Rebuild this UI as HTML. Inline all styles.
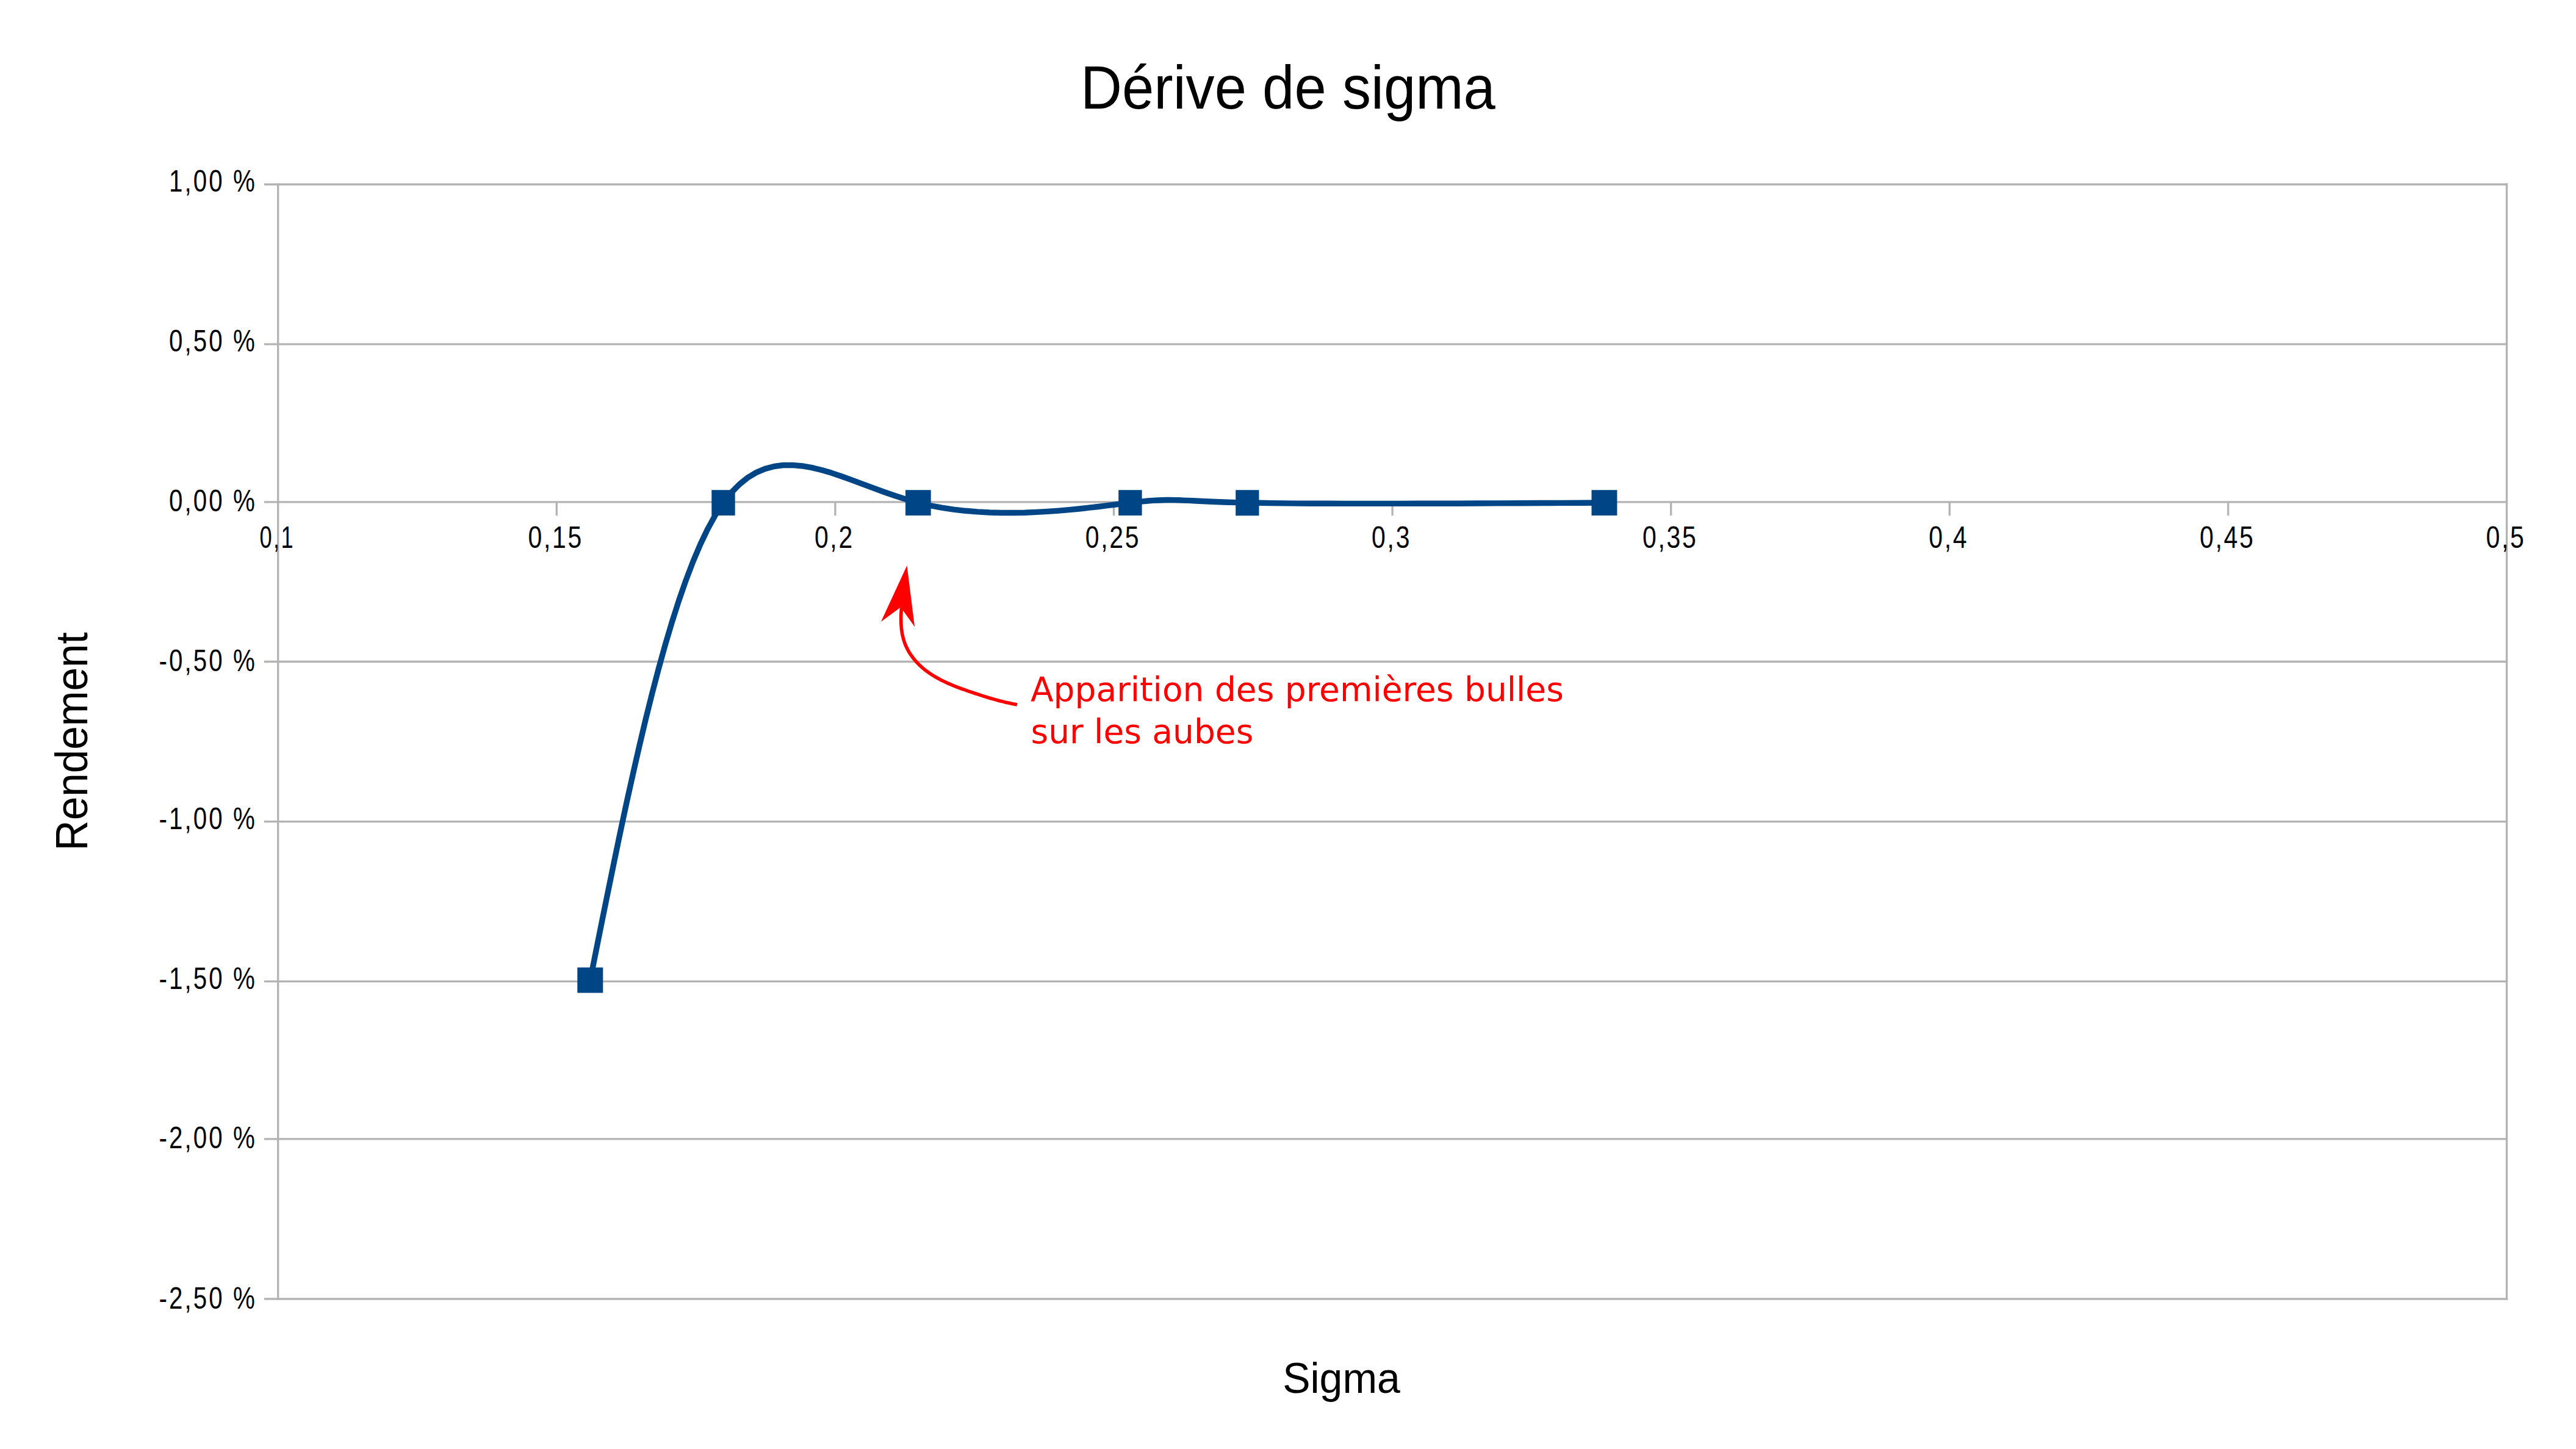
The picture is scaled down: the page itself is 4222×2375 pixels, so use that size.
<!DOCTYPE html>
<html><head><meta charset="utf-8"><title>Dérive de sigma</title>
<style>
html,body{margin:0;padding:0;background:#fff;}
body{width:4222px;height:2375px;overflow:hidden;}
svg{display:block;}
.a{font-family:"Liberation Sans",Arial,sans-serif;fill:#000;}
.d{font-family:"DejaVu Sans","Liberation Sans",sans-serif;fill:#ff0000;}
</style></head><body>
<svg width="4222" height="2375" viewBox="0 0 4222 2375">
<rect x="0" y="0" width="4222" height="2375" fill="#fff"/>
<g>
<g stroke="#b3b3b3" stroke-width="3.3" fill="none">
<line x1="433" y1="302.25" x2="4110.15" y2="302.25"/>
<line x1="433" y1="564.15" x2="4110.15" y2="564.15"/>
<line x1="433" y1="822.8" x2="4110.15" y2="822.8"/>
<line x1="433" y1="1084.5" x2="4110.15" y2="1084.5"/>
<line x1="433" y1="1346.6" x2="4110.15" y2="1346.6"/>
<line x1="433" y1="1608.55" x2="4110.15" y2="1608.55"/>
<line x1="433" y1="1866.9" x2="4110.15" y2="1866.9"/>
<line x1="433" y1="2129.0" x2="4110.15" y2="2129.0"/>
<line x1="455.7" y1="300.60" x2="455.7" y2="2130.65"/>
<line x1="4108.5" y1="300.60" x2="4108.5" y2="2130.65"/>
<line x1="912.3" y1="822.8" x2="912.3" y2="845"/>
<line x1="1368.9" y1="822.8" x2="1368.9" y2="845"/>
<line x1="1825.5" y1="822.8" x2="1825.5" y2="845"/>
<line x1="2282.1" y1="822.8" x2="2282.1" y2="845"/>
<line x1="2738.7" y1="822.8" x2="2738.7" y2="845"/>
<line x1="3195.3" y1="822.8" x2="3195.3" y2="845"/>
<line x1="3651.9" y1="822.8" x2="3651.9" y2="845"/>
</g>
<g class="a" font-size="45.8" text-anchor="end">
<text letter-spacing="3.5" transform="translate(421.00,314.00) scale(0.88,1.103)">1,00 %</text>
<text letter-spacing="3.5" transform="translate(421.00,576.20) scale(0.88,1.103)">0,50 %</text>
<text letter-spacing="3.5" transform="translate(421.00,837.60) scale(0.88,1.103)">0,00 %</text>
<text letter-spacing="3.5" transform="translate(421.00,1100.00) scale(0.88,1.103)">-0,50 %</text>
<text letter-spacing="3.5" transform="translate(421.00,1358.60) scale(0.88,1.103)">-1,00 %</text>
<text letter-spacing="3.5" transform="translate(421.00,1620.60) scale(0.88,1.103)">-1,50 %</text>
<text letter-spacing="3.5" transform="translate(421.00,1882.40) scale(0.88,1.103)">-2,00 %</text>
<text letter-spacing="3.5" transform="translate(421.00,2144.70) scale(0.88,1.103)">-2,50 %</text>
</g>
<g class="a" font-size="45.5" text-anchor="middle">
<text letter-spacing="3.0" transform="translate(454.20,897.50) scale(0.7965,1.11)">0,1</text>
<text letter-spacing="3.0" transform="translate(910.80,897.50) scale(0.9000,1.11)">0,15</text>
<text letter-spacing="3.0" transform="translate(1367.40,897.50) scale(0.9000,1.11)">0,2</text>
<text letter-spacing="3.0" transform="translate(1824.00,897.50) scale(0.9000,1.11)">0,25</text>
<text letter-spacing="3.0" transform="translate(2280.60,897.50) scale(0.9000,1.11)">0,3</text>
<text letter-spacing="3.0" transform="translate(2737.20,897.50) scale(0.9000,1.11)">0,35</text>
<text letter-spacing="3.0" transform="translate(3193.80,897.50) scale(0.9000,1.11)">0,4</text>
<text letter-spacing="3.0" transform="translate(3650.40,897.50) scale(0.9000,1.11)">0,45</text>
<text letter-spacing="3.0" transform="translate(4107.00,897.50) scale(0.9000,1.11)">0,5</text>
</g>
<text class="a" font-size="94.1" text-anchor="middle" transform="translate(2111.00,177.70) scale(1,1.055)">Dérive de sigma</text>
<text class="a" font-size="68.0" text-anchor="middle" transform="translate(2198.50,2283.40) scale(1,1.045)">Sigma</text>
<text class="a" font-size="69.3" text-anchor="middle" transform="translate(142.80,1215.30) rotate(-90) scale(1,1.08)">Rendement</text>
<polyline points="967.3,1606.6 977.2,1557.0 987.1,1507.6 997.1,1458.5 1007.1,1409.8 1017.1,1361.8 1027.2,1314.6 1037.5,1268.3 1047.8,1223.1 1058.2,1179.2 1068.8,1136.7 1079.5,1095.7 1090.4,1056.5 1101.5,1019.2 1112.8,983.9 1124.3,950.8 1136.0,920.1 1148.0,891.9 1160.2,866.4 1172.7,843.7 1185.5,824.0 1198.6,807.4 1212.0,793.7 1225.7,782.8 1239.7,774.4 1254.0,768.4 1268.6,764.5 1283.5,762.5 1298.7,762.4 1314.2,763.7 1330.0,766.4 1346.1,770.3 1362.6,775.1 1379.3,780.7 1396.3,786.8 1413.7,793.3 1431.3,799.9 1449.2,806.5 1467.5,812.8 1486.0,818.7 1504.9,824.0 1524.0,828.5 1543.4,832.1 1563.0,835.1 1582.6,837.3 1602.3,838.9 1621.9,840.0 1641.4,840.5 1660.7,840.5 1679.7,840.2 1698.5,839.4 1716.8,838.4 1734.7,837.1 1752.0,835.6 1768.7,834.0 1784.8,832.2 1800.1,830.5 1814.5,828.7 1828.1,827.0 1840.8,825.4 1852.4,824.0 1863.0,822.8 1872.6,821.8 1881.3,821.0 1889.5,820.4 1897.1,820.0 1904.3,819.7 1911.2,819.5 1918.1,819.5 1925.0,819.6 1932.1,819.8 1939.5,820.1 1947.4,820.4 1955.9,820.8 1965.1,821.2 1975.3,821.7 1986.5,822.2 1998.8,822.7 2012.5,823.2 2027.6,823.6 2044.4,824.0 2062.9,824.3 2083.0,824.6 2104.7,824.9 2127.9,825.1 2152.4,825.2 2178.3,825.3 2205.4,825.4 2233.7,825.4 2263.0,825.4 2293.2,825.4 2324.4,825.3 2356.3,825.3 2388.9,825.2 2422.2,825.0 2455.9,824.9 2490.1,824.7 2524.6,824.5 2559.5,824.4 2594.4,824.2 2629.5,824.0" fill="none" stroke="#004586" stroke-width="9.4" stroke-linejoin="round" stroke-linecap="round"/>
<g fill="#004586">
<rect x="946.3" y="1585.7" width="42.00" height="41.70"/>
<rect x="1166.3" y="803.2" width="38.40" height="41.70"/>
<rect x="1484.05" y="803.2" width="41.65" height="41.70"/>
<rect x="1833.2" y="803.2" width="38.40" height="41.70"/>
<rect x="2025.2" y="803.2" width="38.30" height="42.00"/>
<rect x="2608.5" y="803.2" width="41.90" height="41.70"/>
</g>
</g>
<polyline points="1666.9,1155.0 1662.9,1154.2 1658.9,1153.5 1655.0,1152.6 1651.1,1151.8 1647.2,1150.9 1643.3,1149.9 1639.5,1149.0 1635.7,1148.0 1631.9,1146.9 1628.1,1145.9 1624.3,1144.8 1620.5,1143.7 1616.8,1142.5 1613.0,1141.4 1609.2,1140.2 1605.4,1138.9 1601.7,1137.7 1597.9,1136.5 1594.1,1135.2 1590.3,1133.9 1586.4,1132.6 1582.6,1131.2 1578.7,1129.9 1574.9,1128.5 1571.1,1127.1 1567.2,1125.6 1563.4,1124.1 1559.6,1122.5 1555.9,1120.9 1552.1,1119.3 1548.4,1117.5 1544.8,1115.8 1541.1,1113.9 1537.6,1112.0 1534.0,1110.0 1530.6,1108.0 1527.2,1105.8 1523.8,1103.6 1520.5,1101.3 1517.3,1098.9 1514.2,1096.5 1511.2,1093.9 1508.2,1091.2 1505.3,1088.4 1502.6,1085.5 1499.9,1082.6 1497.4,1079.5 1495.0,1076.3 1492.7,1073.1 1490.5,1069.8 1488.5,1066.4 1486.7,1062.9 1485.0,1059.3 1483.4,1055.6 1482.1,1051.9 1480.9,1048.1 1479.9,1044.2 1479.0,1040.3 1478.3,1036.4 1477.7,1032.4 1477.3,1028.3 1477.0,1024.3 1476.8,1020.2 1476.7,1016.2 1476.7,1012.1 1476.8,1008.1 1477.0,1004.1 1477.2,1000.1 1477.6,996.2 1478.2,988.2" fill="none" stroke="#ff0000" stroke-width="5.6" stroke-linecap="butt" stroke-linejoin="round"/>
<polygon points="1486.5,927.1 1499.1,1027.2 1480.3,1001.1 1474.9,996.2 1443.9,1019.1" fill="#ff0000"/>
<text class="d" font-size="55.0" x="1689.00" y="1149.20">Apparition des premières bulles</text>
<text class="d" font-size="55.0" x="1689.50" y="1218.20">sur les aubes</text>
</svg>
</body></html>
